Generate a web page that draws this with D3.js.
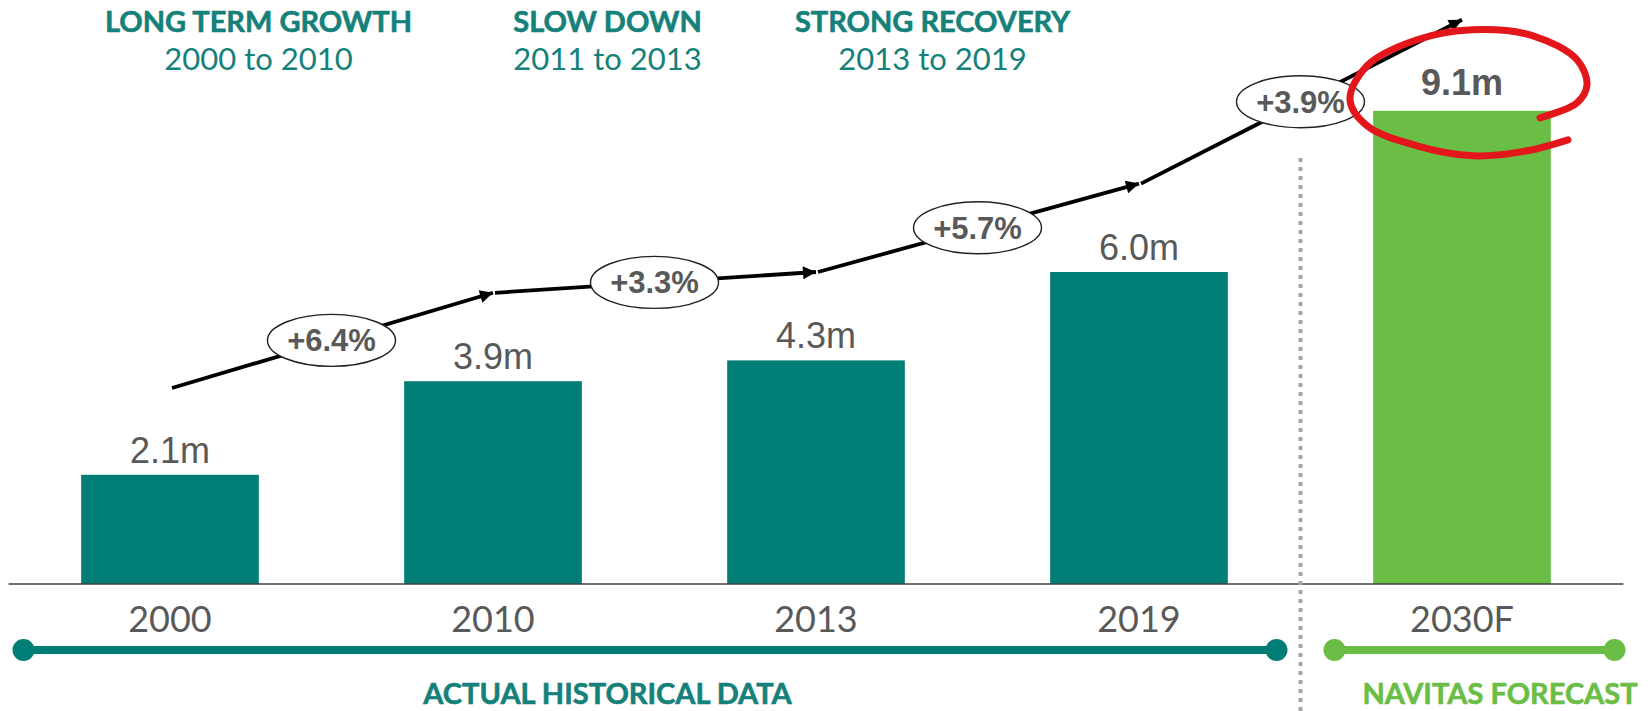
<!DOCTYPE html>
<html>
<head>
<meta charset="utf-8">
<script src="https://cdn.jsdelivr.net/npm/d3@7"></script>
<style>
  html, body { margin: 0; padding: 0; background: #fff; }
  svg { display: block; }
</style>
</head>
<body>
<div id="chart"></div>
<script>
// chart data
const categories = ["2000", "2010", "2013", "2019", "2030F"];
const values = [2.1, 3.9, 4.3, 6.0, 9.1];
const isForecast = [false, false, false, false, true];
// level of the hand drawn growth arrow above each bar, in the same units as the bars
const trendLevels = [3.77, 5.6, 6.0, 7.7, 10.85];
const growthLabels = ["+6.4%", "+3.3%", "+5.7%", "+3.9%"];
const phaseTitles = ["LONG TERM GROWTH", "SLOW DOWN", "STRONG RECOVERY"];
const phaseRanges = ["2000 to 2010", "2011 to 2013", "2013 to 2019"];
const timelineLabels = ["ACTUAL HISTORICAL DATA", "NAVITAS FORECAST"];

const width = 1650;
const height = 711;
const teal = "#007d74";
const green = "#6abd45";
const headTeal = "#15817a";
const grey = "#595959";

const svg = d3.select("#chart")
  .append("svg")
  .attr("width", width)
  .attr("height", height)
  .attr("viewBox", `0 0 ${width} ${height}`);

const x = d3.scaleBand()
  .domain(categories)
  .range([8.5, 1623.5])
  .paddingInner(0.45)
  .paddingOuter(0.225);

const y = d3.scaleLinear()
  .domain([0, 10])
  .range([584, 64]);

const cx = (c) => x(c) + x.bandwidth() / 2;

// arrow marker
svg.append("defs")
  .append("marker")
  .attr("id", "arrow")
  .attr("viewBox", "0 0 10 10")
  .attr("refX", 10)
  .attr("refY", 5)
  .attr("markerUnits", "userSpaceOnUse")
  .attr("markerWidth", 16)
  .attr("markerHeight", 13)
  .attr("orient", "auto")
  .append("path")
  .attr("d", "M0,0 L10,5 L0,10 z")
  .attr("fill", "#000");

// bars
svg.append("g")
  .selectAll("rect")
  .data(categories)
  .join("rect")
  .attr("x", (d) => x(d))
  .attr("y", (d, i) => y(values[i]))
  .attr("width", x.bandwidth())
  .attr("height", (d, i) => y(0) - y(values[i]))
  .attr("fill", (d, i) => (isForecast[i] ? green : teal));

// baseline
svg.append("line")
  .attr("x1", x.range()[0])
  .attr("x2", x.range()[1])
  .attr("y1", y(0))
  .attr("y2", y(0))
  .attr("stroke", "#404040")
  .attr("stroke-width", 1.5);

// value labels
svg.append("g")
  .selectAll("text")
  .data(categories)
  .join("text")
  .attr("x", cx)
  .attr("y", (d, i) => y(values[i]) - (isForecast[i] ? 16 : 12))
  .attr("text-anchor", "middle")
  .attr("font-family", "'Liberation Sans', Arial, sans-serif")
  .attr("font-size", 36)
  .attr("font-weight", (d, i) => (isForecast[i] ? "bold" : "normal"))
  .attr("fill", grey)
  .text((d, i) => values[i].toFixed(1) + "m");

// x axis labels
const xAxis = svg.append("g")
  .attr("transform", `translate(0,${y(0)})`)
  .call(d3.axisBottom(x).tickSize(0).tickPadding(0));
xAxis.select(".domain").remove();
xAxis.selectAll("text")
  .attr("dy", 0)
  .attr("y", 48)
  .attr("font-family", "Lato, 'Open Sans', sans-serif")
  .attr("font-size", 36)
  .attr("fill", grey);

// forecast divider
const divX = (cx(categories[3]) + cx(categories[4])) / 2;
svg.append("line")
  .attr("x1", divX)
  .attr("x2", divX)
  .attr("y1", 158)
  .attr("y2", height)
  .attr("stroke", "#a6a6a6")
  .attr("stroke-width", 4)
  .attr("stroke-dasharray", "4 5");

// growth arrows
const pts = categories.map((c, i) => [cx(c), y(trendLevels[i])]);
const segs = d3.pairs(pts);
svg.append("g")
  .selectAll("line")
  .data(segs)
  .join("line")
  .attr("x1", (d) => d[0][0] + 2)
  .attr("y1", (d) => d[0][1])
  .attr("x2", (d) => d[1][0])
  .attr("y2", (d) => d[1][1])
  .attr("stroke", "#000")
  .attr("stroke-width", 3.8)
  .attr("marker-end", "url(#arrow)");

const bubbles = svg.append("g")
  .selectAll("g")
  .data(segs)
  .join("g")
  .attr("transform", (d) => `translate(${(d[0][0] + d[1][0]) / 2},${(d[0][1] + d[1][1]) / 2})`);
bubbles.append("ellipse")
  .attr("rx", 64)
  .attr("ry", 26)
  .attr("fill", "#fff")
  .attr("stroke", "#222")
  .attr("stroke-width", 1.4);
bubbles.append("text")
  .attr("text-anchor", "middle")
  .attr("dy", 11)
  .attr("font-family", "'Liberation Sans', Arial, sans-serif")
  .attr("font-weight", "bold")
  .attr("font-size", 31)
  .attr("fill", grey)
  .text((d, i) => growthLabels[i]);

// phase headers
const headShift = [-73, -47, -45];
const heads = svg.append("g")
  .selectAll("g")
  .data(phaseTitles)
  .join("g")
  .attr("transform", (d, i) => `translate(${(cx(categories[i]) + cx(categories[i + 1])) / 2 + headShift[i]},0)`);
heads.append("text")
  .attr("y", 32)
  .attr("text-anchor", "middle")
  .attr("font-family", "Lato, 'Open Sans', sans-serif")
  .attr("font-weight", "bold")
  .attr("font-size", 29)
  .attr("fill", headTeal)
  .attr("stroke", headTeal)
  .attr("stroke-width", 0.6)
  .text((d) => d);
heads.append("text")
  .attr("y", 70)
  .attr("text-anchor", "middle")
  .attr("font-family", "Lato, 'Open Sans', sans-serif")
  .attr("font-size", 31)
  .attr("fill", headTeal)
  .text((d, i) => phaseRanges[i]);

// timeline bars
const timelines = [
  { x1: x.range()[0] + 15, x2: divX - 24, color: teal },
  { x1: divX + 34, x2: x.range()[1] - 9, color: green },
];
const tl = svg.append("g")
  .selectAll("g")
  .data(timelines)
  .join("g");
tl.append("line")
  .attr("x1", (d) => d.x1)
  .attr("x2", (d) => d.x2)
  .attr("y1", 650)
  .attr("y2", 650)
  .attr("stroke", (d) => d.color)
  .attr("stroke-width", 8);
tl.selectAll("circle")
  .data((d) => [d, d].map((e, k) => ({ cx: k ? e.x2 : e.x1, color: e.color })))
  .join("circle")
  .attr("cx", (d) => d.cx)
  .attr("cy", 650)
  .attr("r", 11)
  .attr("fill", (d) => d.color);

svg.append("g")
  .selectAll("text")
  .data(timelineLabels)
  .join("text")
  .attr("x", (d, i) => (i === 0 ? (cx(categories[1]) + cx(categories[2])) / 2 - 47 : cx(categories[4]) + 38))
  .attr("y", 704)
  .attr("text-anchor", "middle")
  .attr("font-family", "Lato, 'Open Sans', sans-serif")
  .attr("font-weight", "bold")
  .attr("font-size", 29)
  .attr("fill", (d, i) => (i === 0 ? headTeal : green))
  .attr("stroke", (d, i) => (i === 0 ? headTeal : green))
  .attr("stroke-width", 0.6)
  .text((d) => d);

// red hand drawn loop round the forecast value (offsets from bar centre / bar top)
const loopOffsets = [
  [78, 7], [115, -8], [125, -26], [115, -51], [71, -75], [11, -81],
  [-45, -71], [-95, -45], [-112, -11], [-95, 15], [-45, 35], [11, 45],
  [65, 40], [106, 29],
];
const lx = cx(categories[4]);
const ly = y(values[4]);
svg.append("path")
  .attr("d", d3.line().curve(d3.curveCatmullRom)(loopOffsets.map((p) => [lx + p[0], ly + p[1]])))
  .attr("fill", "none")
  .attr("stroke", "#e3161b")
  .attr("stroke-width", 7)
  .attr("stroke-linecap", "round");
</script>
</body>
</html>
